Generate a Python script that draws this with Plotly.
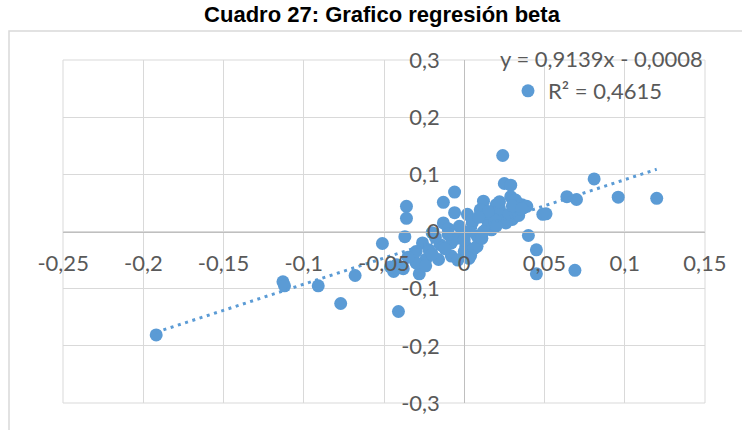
import plotly.graph_objects as go

# ---- data ----
x_vals = [-0.192, -0.113, -0.112, -0.091, -0.077, -0.068, -0.041, 0.120, 0.096, 0.081,
          0.070, 0.064, 0.069, 0.045, 0.045, 0.040, 0.049, 0.051, 0.024, 0.025,
          0.029, -0.006, -0.013, -0.036, -0.036, -0.037, -0.051, -0.028, -0.044, 0.012,
          0.020, 0.029, 0.036, 0.030, 0.002, -0.006, 0.017, 0.008, 0.001, 0.008,
          -0.008, -0.016, -0.024, -0.032, -0.026, -0.020, -0.013, -0.003, -0.015, -0.008,
          -0.001, 0.014, 0.024, 0.033, 0.039, 0.010, 0.005, 0.018, 0.026, -0.022,
          -0.042, -0.038, -0.046, -0.030, 0.000, 0.006, 0.004, -0.010, 0.015, 0.022,
          0.034, -0.018, 0.003, 0.011, -0.005, 0.032, 0.019,
          -0.020, -0.012, 0.000, 0.012, 0.020, 0.028, -0.030, -0.035, 0.005, 0.015,
          0.030, -0.004, 0.003, -0.024, 0.009, 0.036, -0.010, 0.022]
y_vals = [-0.181, -0.088, -0.095, -0.095, -0.126, -0.077, -0.140, 0.058, 0.060, 0.092,
          0.056, 0.061, -0.068, -0.074, -0.032, -0.007, 0.030, 0.031, 0.133, 0.084,
          0.081, 0.069, 0.051, 0.044, 0.023, -0.009, -0.021, -0.074, -0.070, 0.053,
          0.047, 0.061, 0.047, 0.021, 0.030, 0.033, 0.003, -0.008, -0.026, -0.026,
          -0.043, -0.049, -0.049, -0.043, -0.020, -0.002, 0.015, 0.009, -0.023, -0.020,
          -0.008, 0.021, 0.027, 0.038, 0.044, 0.038, 0.015, 0.033, 0.015, -0.032,
          -0.058, -0.065, -0.062, -0.055, -0.035, -0.030, -0.042, 0.005, 0.010, 0.040,
          0.028, -0.010, 0.000, -0.012, -0.012, 0.055, 0.020,
          -0.040, -0.030, -0.015, 0.000, 0.010, 0.030, -0.035, -0.045, 0.020, 0.035,
          0.045, -0.050, -0.047, -0.060, 0.025, 0.040, -0.005, 0.052]

slope = 0.9139
intercept = -0.0008
equation_label = "y = 0,9139x - 0,0008"
r2_label = "R² = 0,4615"
title_text = "Cuadro 27: Grafico regresión beta"

x_ticks = [-0.25, -0.2, -0.15, -0.1, -0.05, 0, 0.05, 0.1, 0.15]
x_tick_labels = ["-0,25", "-0,2", "-0,15", "-0,1", "-0,05", "0", "0,05", "0,1", "0,15"]
y_ticks = [-0.3, -0.2, -0.1, 0, 0.1, 0.2, 0.3]
y_tick_labels = ["-0,3", "-0,2", "-0,1", "0", "0,1", "0,2", "0,3"]

# ---- figure ----
BLUE = "#5b9bd5"
GRID = "#d9d9d9"
AXIS = "#bfbfbf"
TXT = "#595959"
FONT = "Lato, Calibri, sans-serif"

x_min, x_max = min(x_vals), max(x_vals)
trend_x = [x_min, x_max]
trend_y = [slope * v + intercept for v in trend_x]

fig = go.Figure()
fig.add_trace(go.Scatter(
    x=x_vals, y=y_vals, mode="markers", name=r2_label,
    marker=dict(color=BLUE, size=13, line=dict(width=0)),
    showlegend=True,
))
fig.add_trace(go.Scatter(
    x=trend_x, y=trend_y, mode="lines", showlegend=False,
    line=dict(color=BLUE, width=3, dash="3px,4.6px"),
))

x_range = [-0.2501, 0.1501]
y_range = [-0.3001, 0.3001]

fig.update_layout(
    width=742, height=430,
    margin=dict(l=63, r=37, t=60, b=27),
    paper_bgcolor="white", plot_bgcolor="white",
    title=dict(text=title_text, x=382 / 742, xanchor="center", y=1 - 14 / 430, yanchor="middle",
               font=dict(family="Liberation Sans, Arial, sans-serif", size=22, color="black", weight="bold")),
    xaxis=dict(range=x_range, tickvals=x_ticks, ticktext=x_tick_labels,
               showgrid=True, gridcolor=GRID, gridwidth=1, zeroline=False,
               showline=True, linecolor=AXIS, linewidth=1,
               anchor="free", position=0.5, ticks="",
               ticklabelstandoff=12,
               tickfont=dict(family=FONT, size=22, color=TXT)),
    yaxis=dict(range=y_range, tickvals=y_ticks, ticktext=y_tick_labels,
               showgrid=True, gridcolor=GRID, gridwidth=1, zeroline=False,
               showline=True, linecolor=AXIS, linewidth=1,
               anchor="free", position=0.625, ticks="",
               ticklabelstandoff=20,
               tickfont=dict(family=FONT, size=22, color=TXT)),
    legend=dict(x=(508 - 63) / 642, y=(403 - 70) / 343, xanchor="left", yanchor="top",
                bgcolor="rgba(0,0,0,0)", borderwidth=0,
                font=dict(family=FONT, size=22, color=TXT)),
    showlegend=True,
    annotations=[dict(text=equation_label, xref="paper", yref="paper",
                      x=(601 - 63) / 642, y=(403 - 58) / 343, xanchor="center", yanchor="middle",
                      showarrow=False, font=dict(family=FONT, size=22, color=TXT))],
    shapes=[
        dict(type="rect", xref="x domain", yref="y domain", x0=0, x1=1, y0=0, y1=1,
             line=dict(color=GRID, width=1), layer="below"),
        dict(type="rect", xref="paper", yref="paper",
             x0=(9 - 63) / 642, x1=(760 - 63) / 642, y0=(403 - 450) / 343, y1=(403 - 31) / 343,
             line=dict(color=GRID, width=1.5), layer="below"),
    ],
)

fig.write_html("out.html", config={"displayModeBar": False},
               post_script="document.body.style.margin='0px';document.body.style.overflow='hidden';")
